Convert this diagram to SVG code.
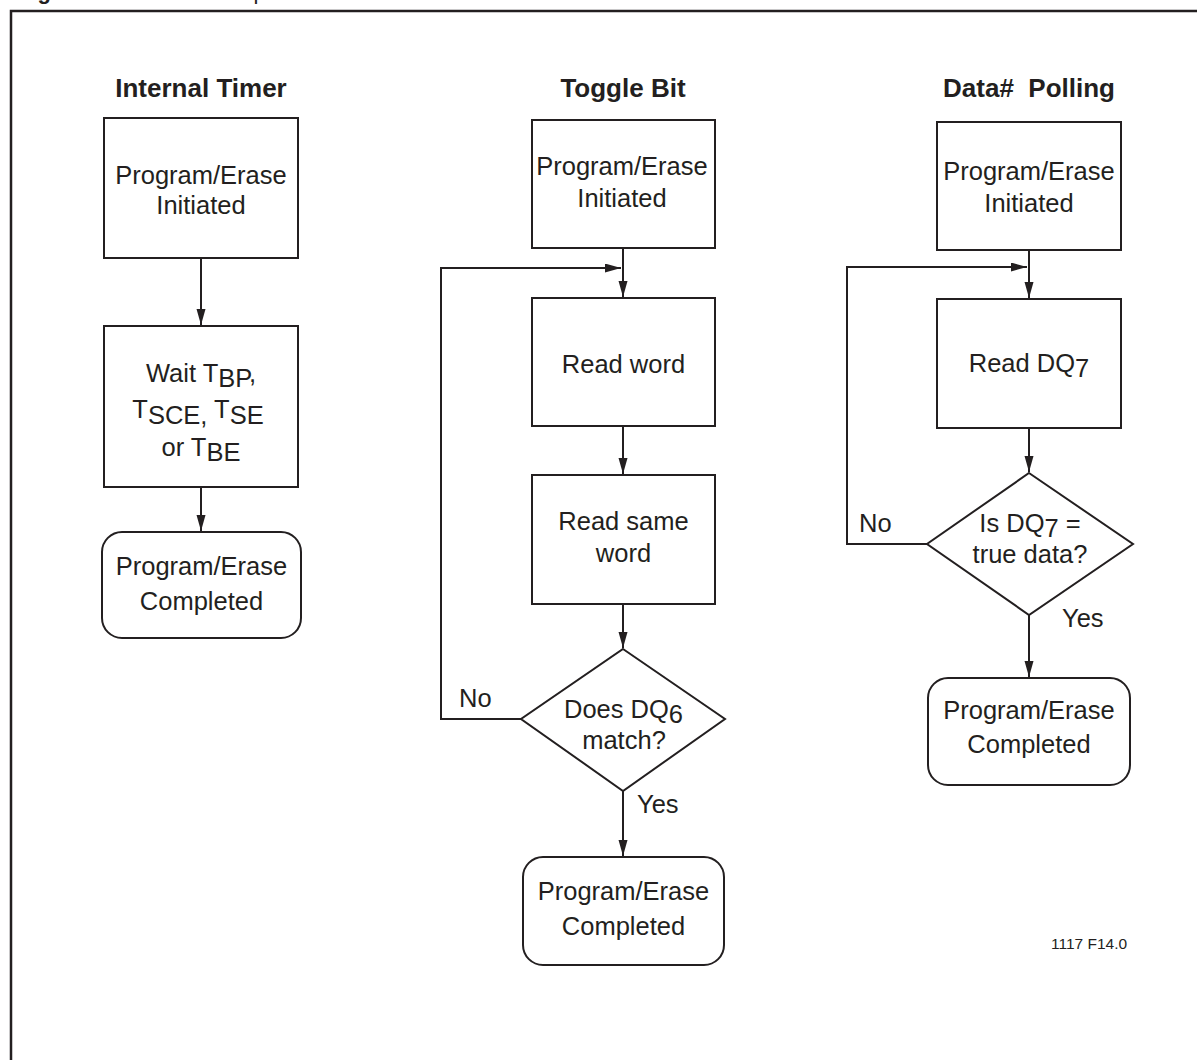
<svg xmlns="http://www.w3.org/2000/svg" width="1197" height="1060" viewBox="0 0 1197 1060">
<defs>
<style>
.t{font-family:"Liberation Sans",Arial,sans-serif;font-size:25.5px;fill:#231f20;text-anchor:middle}
.h{font-family:"Liberation Sans",Arial,sans-serif;font-size:26px;font-weight:bold;fill:#231f20;text-anchor:middle}
.l{font-family:"Liberation Sans",Arial,sans-serif;font-size:25.5px;fill:#231f20}
.box{fill:#fff;stroke:#231f20;stroke-width:2}
.c{fill:none;stroke:#231f20;stroke-width:2}
</style>
<marker id="ah" markerUnits="userSpaceOnUse" markerWidth="16" markerHeight="10" refX="16" refY="4.5" orient="auto">
<path d="M0,0 L16,4.5 L0,9 z" fill="#231f20"/>
</marker>
</defs>
<rect width="1197" height="1060" fill="#fff"/>
<g id="caption">
<text x="18" y="-0.6" style="font-family:'Liberation Sans',Arial,sans-serif;font-size:22px;font-weight:bold;fill:#231f20">Figure 14:</text>
<text x="187" y="-0.6" style="font-family:'Liberation Sans',Arial,sans-serif;font-size:22px;fill:#231f20">Wait Options</text>
</g>
<rect id="frame" x="11" y="11" width="1220" height="1100" fill="none" stroke="#231f20" stroke-width="2.5"/>
<g id="titles">
<text class="h" x="201" y="97">Internal Timer</text>
<text class="h" x="623" y="97">Toggle Bit</text>
<text class="h" x="1029" y="97" xml:space="preserve">Data#  Polling</text>
</g>
<g id="connectors">
<line class="c" x1="201" y1="258" x2="201" y2="325" marker-end="url(#ah)"/>
<line class="c" x1="201" y1="487" x2="201" y2="531" marker-end="url(#ah)"/>
<line class="c" x1="623" y1="248" x2="623" y2="297" marker-end="url(#ah)"/>
<line class="c" x1="623" y1="426" x2="623" y2="474" marker-end="url(#ah)"/>
<line class="c" x1="623" y1="604" x2="623" y2="648" marker-end="url(#ah)"/>
<line class="c" x1="623" y1="791" x2="623" y2="856" marker-end="url(#ah)"/>
<path class="c" d="M521,719 H441 V268 H621" marker-end="url(#ah)"/>
<line class="c" x1="1029" y1="250" x2="1029" y2="298" marker-end="url(#ah)"/>
<line class="c" x1="1029" y1="428" x2="1029" y2="472" marker-end="url(#ah)"/>
<line class="c" x1="1029" y1="615" x2="1029" y2="677" marker-end="url(#ah)"/>
<path class="c" d="M927,544 H847 V267 H1027" marker-end="url(#ah)"/>
<text class="l" x="459" y="707">No</text>
<text class="l" x="637" y="813">Yes</text>
<text class="l" x="859" y="532">No</text>
<text class="l" x="1062" y="627">Yes</text>
</g>
<g id="it_start">
<rect class="box" x="104" y="118" width="194" height="140"/>
<text class="t" x="201" y="184">Program/Erase</text>
<text class="t" x="201" y="214">Initiated</text>
</g>
<g id="it_wait">
<rect class="box" x="104" y="326" width="194" height="161"/>
<text class="t" x="201" y="382">Wait T<tspan dy="5">BP</tspan><tspan dy="-5">,</tspan></text>
<text class="t" x="198" y="418">T<tspan dy="6">SCE,</tspan><tspan dy="-6"> T</tspan><tspan dy="6">SE</tspan></text>
<text class="t" x="201" y="456">or T<tspan dy="5">BE</tspan></text>
</g>
<g id="it_done">
<rect class="box" x="102" y="532" width="199" height="106" rx="20" ry="20"/>
<text class="t" x="201.5" y="575">Program/Erase</text>
<text class="t" x="201.5" y="610">Completed</text>
</g>
<g id="tb_start">
<rect class="box" x="532" y="120" width="183" height="128"/>
<text class="t" x="622" y="175">Program/Erase</text>
<text class="t" x="622" y="207">Initiated</text>
</g>
<g id="tb_read">
<rect class="box" x="532" y="298" width="183" height="128"/>
<text class="t" x="623.5" y="373">Read word</text>
</g>
<g id="tb_read2">
<rect class="box" x="532" y="475" width="183" height="129"/>
<text class="t" x="623.5" y="530">Read same</text>
<text class="t" x="623.5" y="562">word</text>
</g>
<g id="tb_decision">
<polygon class="box" points="623,649 725,719 623,791 521,719"/>
<text class="t" x="623.5" y="718">Does DQ<tspan dy="5">6</tspan></text>
<text class="t" x="624" y="749">match?</text>
</g>
<g id="tb_done">
<rect class="box" x="523" y="857" width="201" height="108" rx="20" ry="20"/>
<text class="t" x="623.5" y="900">Program/Erase</text>
<text class="t" x="623.5" y="935">Completed</text>
</g>
<g id="dp_start">
<rect class="box" x="937" y="122" width="184" height="128"/>
<text class="t" x="1029" y="180">Program/Erase</text>
<text class="t" x="1029" y="212">Initiated</text>
</g>
<g id="dp_read">
<rect class="box" x="937" y="299" width="184" height="129"/>
<text class="t" x="1029" y="372">Read DQ<tspan dy="5">7</tspan></text>
</g>
<g id="dp_decision">
<polygon class="box" points="1029,473 1133,544 1029,615 927,544"/>
<text class="t" x="1030" y="532">Is DQ<tspan dy="5">7</tspan><tspan dy="-5"> =</tspan></text>
<text class="t" x="1030" y="563">true data?</text>
</g>
<g id="dp_done">
<rect class="box" x="928" y="678" width="202" height="107" rx="20" ry="20"/>
<text class="t" x="1029" y="719">Program/Erase</text>
<text class="t" x="1029" y="753">Completed</text>
</g>
<g id="ref">
<text x="1051" y="949" style="font-family:'Liberation Sans',Arial,sans-serif;font-size:15.5px;fill:#231f20">1117 F14.0</text>
</g>
</svg>
